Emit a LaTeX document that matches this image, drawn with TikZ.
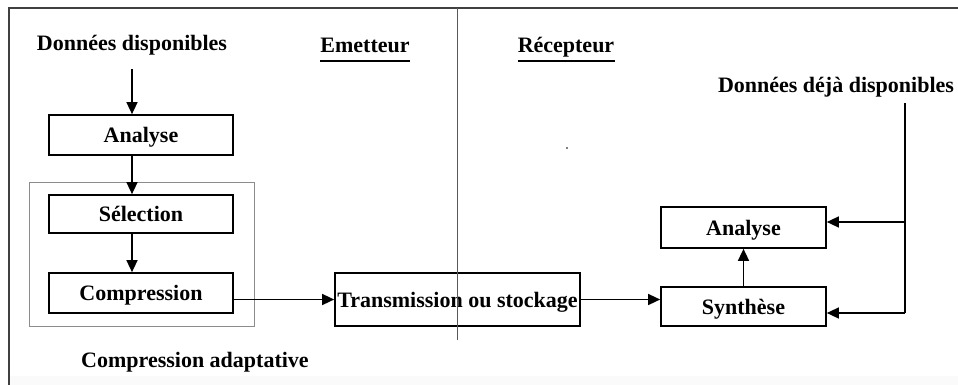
\documentclass[tikz,border=0pt]{standalone}
\usepackage{fontspec}
\setmainfont{Liberation Serif}
\usetikzlibrary{arrows.meta}
\begin{document}
\begin{tikzpicture}[x=1pt,y=-1pt,
  txt/.style={inner sep=0pt, text height=15pt, text depth=5pt, font=\fontsize{22}{24}\selectfont\bfseries},
  blk/.style={txt, text depth=0pt, draw, line width=1.7pt, anchor=center},
  arr/.style={-{Triangle[length=12pt,width=11pt]}, line width=1.5pt},
  lin/.style={line width=1.5pt}
]
\useasboundingbox (0,0) rectangle (958,385);
\fill[black!2] (9,376) rectangle (958,385);
% outer frame (top and left)
\draw[line width=2.2pt, black!75] (958,8) -- (9,8) -- (9,385);

% headings
\node[txt] (dd) at (132,46) {Données disponibles};
\node[txt] (em) at (365,48) {Emetteur};
\node[txt] (rc) at (566,48) {Récepteur};
\draw[line width=1.6pt] (320,61) -- (410,61);
\draw[line width=1.6pt] (518,61) -- (615,61);
\node[txt] (ddd) at (836,88) {Données déjà disponibles};
\fill (567,148) circle (0.8);

% adaptive compression frame
\draw[line width=1pt, black!45] (29,182) rectangle (254,326);
\node[txt] (ca) at (195,362) {Compression adaptative};

% left chain
\node[blk, minimum width=184pt, minimum height=40pt] (an1) at (141,135) {Analyse};
\node[blk, minimum width=184pt, minimum height=38pt] (sel) at (141,214) {Sélection};
\node[blk, minimum width=184pt, minimum height=40pt] (comp) at (141,293) {Compression};

\node[blk, minimum width=245pt, minimum height=53pt] (tr) at (457.5,299.5) {Transmission ou stockage};

\node[blk, minimum width=165pt, minimum height=41pt] (an2) at (743.5,227.5) {Analyse};
\node[blk, minimum width=165pt, minimum height=39pt] (syn) at (743.5,306.5) {Synthèse};

\draw[arr, shorten <=13pt] (dd.south) -- (an1.north -| dd.south);
\draw[arr] (an1.south -| dd.south) -- (sel.north -| dd.south);
\draw[arr] (sel.south -| dd.south) -- (comp.north -| dd.south);
\draw[arr] (comp.east |- tr.west) -- (tr.west);
\draw[arr] (tr.east) -- (tr.east -| syn.west);
\draw[arr] (syn.north) -- (an2.south);

% right feedback
\coordinate (rtop) at (905,103);
\coordinate (rmid) at (905,222);
\coordinate (rbot) at (905,313);
\draw[lin] (rtop) -- (rbot);
\draw[arr] (rmid) -- (rmid -| an2.east);
\draw[arr] (rbot) -- (rbot -| syn.east);

% divider
\draw[line width=1pt, black!65] (457,8) -- (457,340);
\end{tikzpicture}
\end{document}
